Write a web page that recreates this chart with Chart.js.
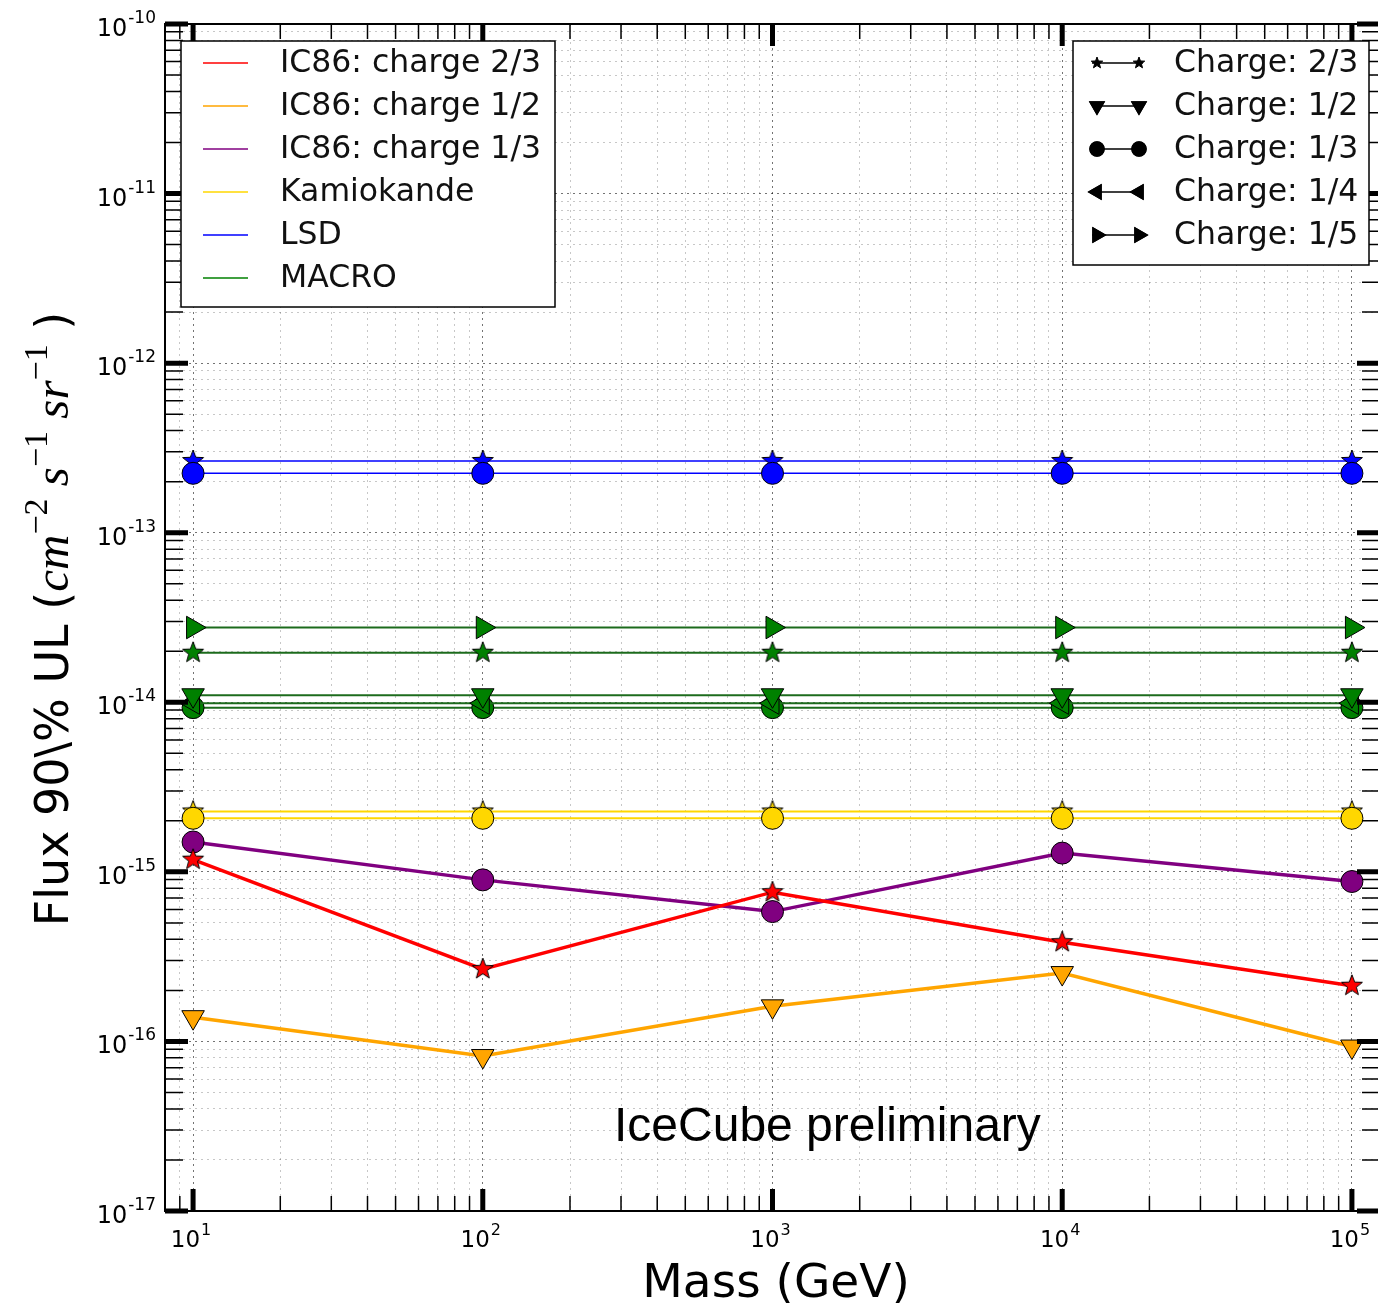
<!DOCTYPE html>
<html>
<head>
<meta charset="utf-8">
<script src="https://cdn.jsdelivr.net/npm/chart.js@4.4.1/dist/chart.umd.min.js"></script>
<style>
html, body { margin: 0; padding: 0; background: #fff; overflow: hidden; }
#wrap { width: 1400px; height: 1303px; }
</style>
</head>
<body>
<div id="wrap"><canvas id="chart" width="1400" height="1303"></canvas></div>
<script>
// masses (GeV) on the x axis
const masses = [1e1, 1e2, 1e3, 1e4, 1e5];

// IceCube IC86 limits
const ic86Charge23 = [1.18e-15, 2.67e-16, 7.59e-16, 3.85e-16, 2.13e-16];
const ic86Charge12 = [1.39e-16, 8.2e-17, 1.61e-16, 2.53e-16, 9.33e-17];
const ic86Charge13 = [1.50e-15, 8.97e-16, 5.83e-16, 1.29e-15, 8.77e-16];

// older experiments (flat limits)
const kamiokandeCharge23 = [2.27e-15, 2.27e-15, 2.27e-15, 2.27e-15, 2.27e-15];
const kamiokandeCharge13 = [2.07e-15, 2.07e-15, 2.07e-15, 2.07e-15, 2.07e-15];
const lsdCharge23 = [2.65e-13, 2.65e-13, 2.65e-13, 2.65e-13, 2.65e-13];
const lsdCharge13 = [2.24e-13, 2.24e-13, 2.24e-13, 2.24e-13, 2.24e-13];
const macroCharge23 = [1.96e-14, 1.96e-14, 1.96e-14, 1.96e-14, 1.96e-14];
const macroCharge12 = [1.10e-14, 1.10e-14, 1.10e-14, 1.10e-14, 1.10e-14];
const macroCharge13 = [9.3e-15, 9.3e-15, 9.3e-15, 9.3e-15, 9.3e-15];
const macroCharge14 = [9.88e-15, 9.88e-15, 9.88e-15, 9.88e-15, 9.88e-15];
const macroCharge15 = [2.76e-14, 2.76e-14, 2.76e-14, 2.76e-14, 2.76e-14];

// legends
const expLabels = ['IC86: charge 2/3', 'IC86: charge 1/2', 'IC86: charge 1/3', 'Kamiokande', 'LSD', 'MACRO'];
const expColors = ['#ff0000', '#ffa500', '#800080', '#ffd700', '#0000ff', '#008000'];
const chargeLabels = ['Charge: 2/3', 'Charge: 1/2', 'Charge: 1/3', 'Charge: 1/4', 'Charge: 1/5'];

// axis decades
const xDecades = [1, 2, 3, 4, 5];
const yDecades = [-10, -11, -12, -13, -14, -15, -16, -17];

// filled star marker (Chart.js has no filled star)
function starCanvas(fill, r) {
    const s = Math.ceil(r * 2 + 4);
    const c = document.createElement('canvas');
    c.width = c.height = s;
    const g = c.getContext('2d');
    g.beginPath();
    for (let i = 0; i < 10; i++) {
        const rr = i % 2 ? r * 0.42 : r;
        const a = -Math.PI / 2 + i * Math.PI / 5;
        g.lineTo(s / 2 + rr * Math.cos(a), s / 2 + rr * Math.sin(a));
    }
    g.closePath();
    g.fillStyle = fill;
    g.fill();
    g.lineWidth = 1;
    g.strokeStyle = '#000';
    g.stroke();
    return c;
}

// marker shapes per charge
const markers = {
    c23: { style: 'star' },
    c12: { style: 'triangle', rot: 180 },
    c13: { style: 'circle' },
    c14: { style: 'triangle', rot: 270 },
    c15: { style: 'triangle', rot: 90 }
};

function series(label, values, color, charge, lineWidth, lineColor) {
    const m = markers[charge];
    const isStar = m.style === 'star';
    return {
        label: label,
        data: masses.map((x, i) => ({ x: x, y: values[i] })),
        borderColor: lineColor || color,
        borderWidth: lineWidth,
        backgroundColor: color,
        pointStyle: isStar ? starCanvas(color, 11) : m.style,
        pointRotation: m.rot || 0,
        pointRadius: m.style === 'circle' ? 11 : 13,
        pointBackgroundColor: color,
        pointBorderColor: '#000',
        pointBorderWidth: 1,
        tension: 0
    };
}

// first dataset is drawn on top
const datasets = [
    series('IC86 2/3', ic86Charge23, '#ff0000', 'c23', 3.5),
    series('IC86 1/3', ic86Charge13, '#800080', 'c13', 3.5),
    series('IC86 1/2', ic86Charge12, '#ffa500', 'c12', 3.5),
    series('Kamiokande 1/3', kamiokandeCharge13, '#ffd700', 'c13', 2),
    series('Kamiokande 2/3', kamiokandeCharge23, '#ffd700', 'c23', 2),
    series('LSD 1/3', lsdCharge13, '#0000ff', 'c13', 1.5),
    series('LSD 2/3', lsdCharge23, '#0000ff', 'c23', 1.5),
    series('MACRO 1/2', macroCharge12, '#008000', 'c12', 2, '#1c6b1c'),
    series('MACRO 1/4', macroCharge14, '#008000', 'c14', 2, '#1c6b1c'),
    series('MACRO 1/3', macroCharge13, '#008000', 'c13', 2, '#1c6b1c'),
    series('MACRO 2/3', macroCharge23, '#008000', 'c23', 2, '#1c6b1c'),
    series('MACRO 1/5', macroCharge15, '#008000', 'c15', 2, '#1c6b1c')
];

function logTicks(lo, hi, min, max) {
    const out = [];
    for (let e = lo; e <= hi; e++) {
        for (let k = 1; k <= 9; k++) {
            const v = k * Math.pow(10, e);
            if (v >= min * 0.999 && v <= max * 1.001) out.push(v);
        }
    }
    return out;
}
function isMajor(v) {
    const l = Math.log10(v);
    return Math.abs(l - Math.round(l)) < 1e-9;
}

const gridColor = ctx => (ctx.tick && isMajor(ctx.tick.value)) ? 'rgba(0,0,0,0.55)' : 'rgba(0,0,0,0.22)';

// ticks, spines, labels, legends
const decorPlugin = {
    id: 'decor',
    afterDraw(chart) {
        const ctx = chart.ctx;
        const a = chart.chartArea;
        const xs = chart.scales.x, ys = chart.scales.y;
        ctx.save();
        ctx.strokeStyle = '#000';
        ctx.fillStyle = '#000';

        // inward tick marks
        xs.ticks.forEach(t => {
            const px = xs.getPixelForValue(t.value);
            const maj = isMajor(t.value);
            ctx.lineWidth = maj ? 5 : 1.5;
            const len = maj ? 22 : 15;
            ctx.beginPath();
            ctx.moveTo(px, a.bottom); ctx.lineTo(px, a.bottom - len);
            ctx.moveTo(px, a.top); ctx.lineTo(px, a.top + len);
            ctx.stroke();
        });
        ys.ticks.forEach(t => {
            const py = ys.getPixelForValue(t.value);
            const maj = isMajor(t.value);
            ctx.lineWidth = maj ? 5 : 1.5;
            const len = maj ? 23 : 18;
            ctx.beginPath();
            ctx.moveTo(a.left, py); ctx.lineTo(a.left + len, py);
            ctx.moveTo(a.right, py); ctx.lineTo(a.right - len, py);
            ctx.stroke();
        });

        // spines
        ctx.lineWidth = 2;
        ctx.strokeRect(a.left, a.top, a.right - a.left, a.bottom - a.top);

        // x tick labels
        xDecades.forEach(e => {
            const px = xs.getPixelForValue(Math.pow(10, e));
            ctx.font = '23px "DejaVu Sans"';
            const wb = ctx.measureText('10').width;
            ctx.font = '16px "DejaVu Sans"';
            const we = ctx.measureText(String(e)).width;
            const x0 = px - (wb + we + 1) / 2 - 2;
            ctx.textAlign = 'left';
            ctx.textBaseline = 'alphabetic';
            ctx.font = '23px "DejaVu Sans"';
            ctx.fillText('10', x0, 1247);
            ctx.font = '16px "DejaVu Sans"';
            ctx.fillText(String(e), x0 + wb + 1, 1235);
        });

        // y tick labels
        yDecades.forEach(e => {
            const py = ys.getPixelForValue(Math.pow(10, e));
            const exp = '-' + Math.abs(e);
            ctx.textAlign = 'right';
            ctx.textBaseline = 'alphabetic';
            ctx.font = '17px "DejaVu Sans"';
            const we = ctx.measureText(exp).width;
            ctx.fillText(exp, 156, py - 1);
            ctx.font = '24px "DejaVu Sans"';
            ctx.fillText('10', 156 - we - 1, py + 12);
        });

        // x title
        ctx.textAlign = 'center';
        ctx.font = '47px "DejaVu Sans"';
        ctx.fillText('Mass (GeV)', 776, 1297);

        // y title, rotated, with math part
        ctx.save();
        ctx.translate(68, 619);
        ctx.rotate(-Math.PI / 2);
        const parts = [
            { t: 'Flux 90\\% UL (', f: '46px "DejaVu Sans"', dy: 0 },
            { t: 'cm', f: 'italic 49px "Liberation Serif"', dy: 0 },
            { t: '\u22122', f: '34px "Liberation Serif"', dy: -21 },
            { t: ' s', f: 'italic 49px "Liberation Serif"', dy: 0 },
            { t: '\u22121', f: '34px "Liberation Serif"', dy: -21 },
            { t: ' sr', f: 'italic 49px "Liberation Serif"', dy: 0 },
            { t: '\u22121', f: '34px "Liberation Serif"', dy: -21 },
            { t: ' )', f: '46px "DejaVu Sans"', dy: 0 }
        ];
        let total = 0;
        parts.forEach(p => { ctx.font = p.f; p.w = ctx.measureText(p.t).width; total += p.w; });
        let cx = -total / 2;
        ctx.textAlign = 'left';
        parts.forEach(p => { ctx.font = p.f; ctx.fillText(p.t, cx, p.dy); cx += p.w; });
        ctx.restore();

        // annotation
        ctx.textAlign = 'left';
        ctx.font = '48px "Liberation Sans"';
        ctx.fillText('IceCube preliminary', 614, 1141);

        // left legend
        ctx.fillStyle = '#fff';
        ctx.fillRect(181, 41, 374, 266);
        ctx.strokeStyle = '#000';
        ctx.lineWidth = 1.5;
        ctx.strokeRect(181, 41, 374, 266);
        ctx.font = '31.5px "DejaVu Sans"';
        ctx.textBaseline = 'middle';
        expLabels.forEach((lab, i) => {
            const y = 63 + i * 43;
            ctx.strokeStyle = expColors[i];
            ctx.lineWidth = 1.5;
            ctx.beginPath(); ctx.moveTo(203, y); ctx.lineTo(248, y); ctx.stroke();
            ctx.fillStyle = '#111';
            ctx.fillText(lab, 280, y + 1);
        });

        // right legend
        ctx.fillStyle = '#fff';
        ctx.fillRect(1073, 41, 296, 224);
        ctx.strokeStyle = '#000';
        ctx.lineWidth = 1.5;
        ctx.strokeRect(1073, 41, 296, 224);
        const keys = ['c23', 'c12', 'c13', 'c14', 'c15'];
        const blackStar = starCanvas('#000', 6);
        chargeLabels.forEach((lab, i) => {
            const y = 63 + i * 43;
            ctx.strokeStyle = '#000';
            ctx.lineWidth = 1.5;
            ctx.beginPath(); ctx.moveTo(1092, y); ctx.lineTo(1143, y); ctx.stroke();
            const m = markers[keys[i]];
            const opts = {
                pointStyle: m.style === 'star' ? blackStar : m.style,
                rotation: m.rot || 0,
                radius: m.style === 'circle' ? 7 : 8,
                borderWidth: 1
            };
            ctx.fillStyle = '#000';
            ctx.strokeStyle = '#000';
            [1097, 1139].forEach(mx => {
                ctx.beginPath();
                Chart.helpers.drawPoint(ctx, opts, mx, y);
                if (m.style !== 'star') { ctx.fill(); ctx.stroke(); }
            });
            ctx.fillStyle = '#111';
            ctx.font = '31.5px "DejaVu Sans"';
            ctx.fillText(lab, 1174, y + 1);
        });
        ctx.restore();
    }
};

new Chart(document.getElementById('chart').getContext('2d'), {
    type: 'line',
    data: { datasets: datasets },
    options: {
        responsive: false,
        animation: false,
        devicePixelRatio: 1,
        layout: { padding: { left: 165, top: 24, right: 20, bottom: 92 } },
        plugins: { legend: { display: false }, tooltip: { enabled: false } },
        scales: {
            x: {
                type: 'logarithmic',
                min: 8,
                max: 1.25e5,
                afterBuildTicks: s => { s.ticks = logTicks(0, 5, s.min, s.max).map(v => ({ value: v })); },
                afterFit: s => { s.height = 0; },
                ticks: { display: false },
                border: { display: false, dash: [2, 4] },
                grid: { color: gridColor, lineWidth: 1, drawTicks: false }
            },
            y: {
                type: 'logarithmic',
                min: 1e-17,
                max: 1e-10,
                afterBuildTicks: s => { s.ticks = logTicks(-17, -10, s.min, s.max).map(v => ({ value: v })); },
                afterFit: s => { s.width = 0; },
                ticks: { display: false },
                border: { display: false, dash: [2, 4] },
                grid: { color: gridColor, lineWidth: 1, drawTicks: false }
            }
        }
    },
    plugins: [decorPlugin]
});
</script>
</body>
</html>
